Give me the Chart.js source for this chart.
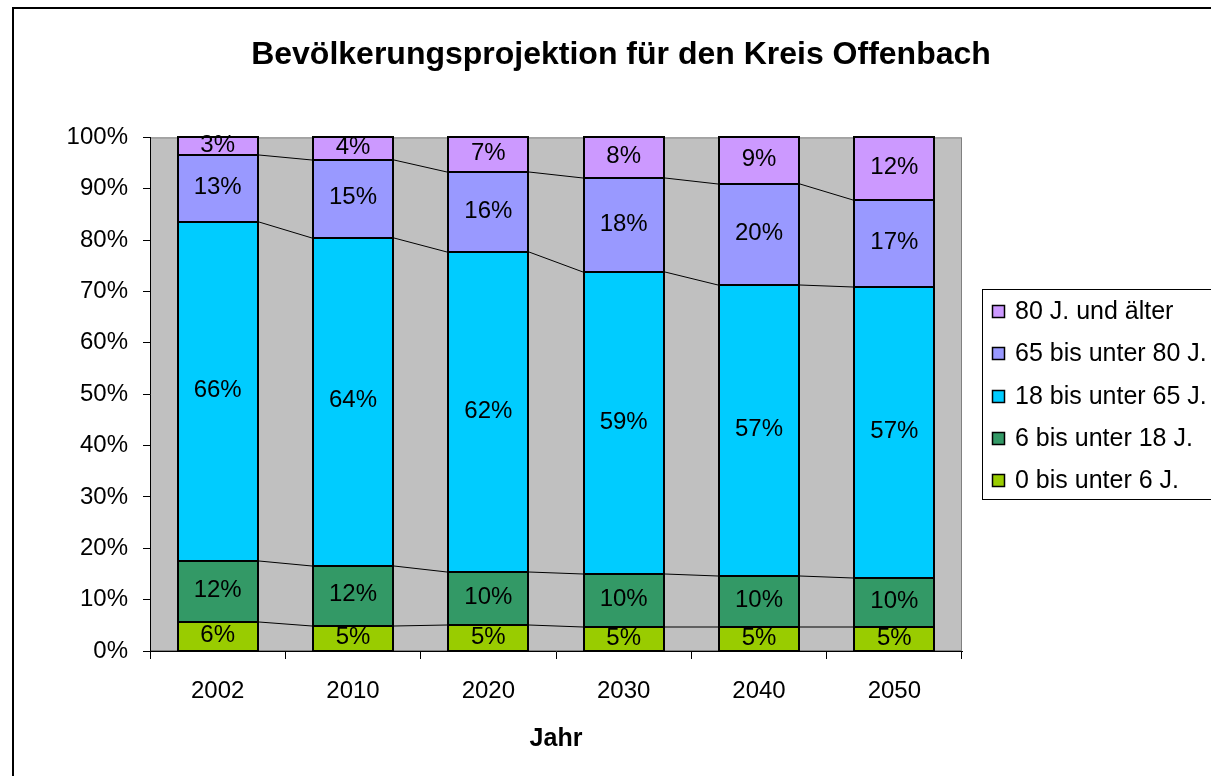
<!DOCTYPE html>
<html><head><meta charset="utf-8">
<script src="https://cdn.jsdelivr.net/npm/chart.js@4.4.0/dist/chart.umd.min.js"></script>
<style>html,body{margin:0;padding:0;overflow:hidden;background:#fff;width:1211px;height:776px}canvas{display:block}</style>
</head><body>
<canvas id="c" width="1242" height="776" style="width:1242px;height:776px"></canvas>
<script>
const chartTitle = 'Bevölkerungsprojektion für den Kreis Offenbach';
const axisTitle = 'Jahr';
const years = ['2002','2010','2020','2030','2040','2050'];
const seriesNames = ['0 bis unter 6 J.','6 bis unter 18 J.','18 bis unter 65 J.','65 bis unter 80 J.','80 J. und älter'];
const seriesColors = ['#99CC00','#339966','#00CCFF','#9999FF','#CC99FF'];
const age0to6   = [5.6, 4.9, 5.0, 4.6, 4.6, 4.6];
const age6to18  = [12.0, 11.7, 10.4, 10.4, 10.0, 9.6];
const age18to65 = [65.9, 63.9, 62.2, 58.8, 56.7, 56.7];
const age65to80 = [13.1, 15.1, 15.6, 18.3, 19.6, 16.9];
const age80plus = [3.4, 4.4, 6.8, 7.9, 9.1, 12.2];
const seriesValues = [age0to6, age6to18, age18to65, age65to80, age80plus];

const FONT = "'Liberation Sans', Arial, sans-serif";
Chart.defaults.font.family = FONT;
Chart.defaults.color = '#000';

const decor = {
  id: 'decor',
  beforeDraw(chart) {
    const {ctx, chartArea: a} = chart;
    ctx.save();
    ctx.fillStyle = '#C0C0C0';
    ctx.fillRect(a.left, a.top, a.right - a.left, a.bottom - a.top);
    ctx.strokeStyle = '#808080';
    ctx.lineWidth = 1;
    ctx.strokeRect(a.left + 0.5, a.top + 0.5, a.right - a.left - 1, a.bottom - a.top - 1);
    ctx.restore();
  },
  afterDatasetsDraw(chart) {
    const ctx = chart.ctx;
    ctx.save();
    // crisp bar outlines at element positions
    ctx.strokeStyle = '#000';
    ctx.lineWidth = 2;
    chart.data.datasets.forEach((ds, d) => {
      chart.getDatasetMeta(d).data.forEach(el => {
        const p = el.getProps(['x','y','base','width'], true);
        const x0 = Math.round(p.x - p.width/2), x1 = Math.round(p.x + p.width/2);
        const y0 = Math.round(p.y), y1 = Math.round(p.base);
        ctx.strokeRect(x0, y0, x1 - x0, y1 - y0);
      });
    });
    // series lines
    ctx.lineWidth = 1;
    for (let d = 0; d < chart.data.datasets.length - 1; d++) {
      const meta = chart.getDatasetMeta(d);
      for (let i = 0; i < meta.data.length - 1; i++) {
        const p = meta.data[i].getProps(['x','y','width'], true);
        const q = meta.data[i+1].getProps(['x','y','width'], true);
        ctx.beginPath();
        ctx.moveTo(Math.round(p.x + p.width/2) + 1, Math.round(p.y));
        ctx.lineTo(Math.round(q.x - q.width/2) - 1, Math.round(q.y));
        ctx.stroke();
      }
    }
    // data labels
    ctx.fillStyle = '#000';
    ctx.font = '24px ' + FONT;
    ctx.textAlign = 'center';
    ctx.textBaseline = 'middle';
    chart.data.datasets.forEach((ds, d) => {
      const meta = chart.getDatasetMeta(d);
      meta.data.forEach((el, i) => {
        const p = el.getProps(['x','y','base'], true);
        ctx.fillText(Math.round(ds.data[i]) + '%', p.x, (p.y + p.base)/2 - 1);
      });
    });
    ctx.restore();
  },
  afterDraw(chart) {
    const ctx = chart.ctx;
    ctx.save();
    ctx.strokeStyle = '#000';
    ctx.lineWidth = 2;
    ctx.strokeRect(13, 8, 1400, 900);
    ctx.lineWidth = 1;
    ctx.strokeRect(982.5, 289.5, 400, 210);
    ctx.font = '25px ' + FONT;
    ctx.textAlign = 'left';
    ctx.textBaseline = 'middle';
    const ds = chart.data.datasets;
    for (let k = 0; k < ds.length; k++) {
      const d = ds[ds.length - 1 - k];
      const cy = Math.round(311 + k * 42.25);
      ctx.fillStyle = d.backgroundColor;
      ctx.fillRect(992, cy - 6, 13, 13);
      ctx.strokeStyle = '#000';
      ctx.lineWidth = 1.5;
      ctx.strokeRect(992.5, cy - 5.5, 12, 12);
      ctx.fillStyle = '#000';
      ctx.fillText(d.label, 1015, cy + 1);
    }
    ctx.restore();
  }
};

new Chart(document.getElementById('c'), {
  type: 'bar',
  data: {
    labels: years,
    datasets: seriesValues.map((vals, i) => ({
      label: seriesNames[i],
      data: vals,
      backgroundColor: seriesColors[i],
      borderWidth: 0,
      barPercentage: 1,
      categoryPercentage: 0.59
    }))
  },
  options: {
    responsive: false,
    animation: false,
    layout: {padding: 0},
    plugins: {
      legend: {display: false},
      tooltip: {enabled: false},
      title: {
        display: true,
        text: chartTitle,
        font: {size: 32, weight: 'bold', family: FONT},
        color: '#000',
        padding: {top: 36, bottom: 63}
      }
    },
    scales: {
      x: {
        stacked: true,
        offset: true,
        grid: {display: true, offset: true, drawOnChartArea: false, tickLength: 8, color: '#000', lineWidth: 1},
        border: {display: true, color: '#000', width: 1},
        ticks: {font: {size: 24}, color: '#000', padding: 18, maxRotation: 0},
        title: {display: true, text: axisTitle, font: {size: 25, weight: 'bold'}, color: '#000', padding: {top: 0, bottom: 22}},
        afterFit(s) { s.height = 125; }
      },
      y: {
        stacked: true,
        min: 0, max: 100,
        grid: {display: true, drawOnChartArea: false, tickLength: 7, color: '#000', lineWidth: 1},
        border: {display: true, color: '#000', width: 1},
        ticks: {stepSize: 10, font: {size: 24}, color: '#000', padding: 15, callback: v => v + '%'},
        afterFit(s) { s.width = 150; }
      },
      y2: {
        position: 'right',
        display: true,
        grid: {display: false},
        border: {display: false},
        ticks: {display: false},
        afterFit(s) { s.width = 280; }
      }
    }
  },
  plugins: [decor]
});
</script>
</body></html>
